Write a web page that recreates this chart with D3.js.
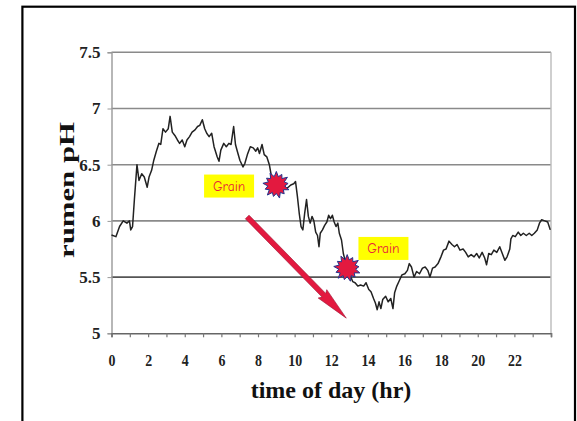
<!DOCTYPE html>
<html><head><meta charset="utf-8">
<script src="https://cdn.jsdelivr.net/npm/d3@7"></script>
<style>
html,body{margin:0;padding:0;background:#fff;}
svg{display:block;}
</style>
</head><body>
<svg id="chart" width="577" height="421"></svg>
<script>
// ---- data ----
const hours = [0,0.24,0.44,0.64,0.84,0.98,1.05,1.15,1.25,1.3,1.39,1.5,1.65,1.79,1.95,2.05,2.19,2.31,2.45,2.59,2.69,2.81,2.95,3.1,3.2,3.32,3.46,3.6,3.72,3.86,4.0,4.12,4.26,4.4,4.56,4.7,4.82,4.96,5.09,5.2,5.33,5.47,5.6,5.77,5.87,5.97,6.13,6.27,6.41,6.53,6.67,6.77,6.87,7.01,7.18,7.28,7.42,7.58,7.74,7.88,7.98,8.08,8.22,8.34,8.48,8.62,8.74,8.88,9.19,9.39,9.59,9.79,9.95,10.05,10.15,10.25,10.35,10.45,10.55,10.65,10.75,10.85,10.95,11.05,11.15,11.25,11.33,11.4,11.52,11.64,11.76,11.86,11.96,12.06,12.16,12.26,12.36,12.44,12.56,12.66,12.8,13.0,13.17,13.3,13.45,13.6,13.77,13.9,14.05,14.17,14.31,14.41,14.51,14.61,14.71,14.81,14.97,15.11,15.25,15.37,15.46,15.58,15.72,15.86,16.02,16.16,16.26,16.38,16.52,16.66,16.82,16.98,17.13,17.27,17.39,17.53,17.67,17.83,17.99,18.13,18.27,18.43,18.59,18.73,18.87,19.03,19.2,19.34,19.48,19.64,19.8,19.94,20.08,20.24,20.38,20.48,20.6,20.74,20.88,21.04,21.2,21.34,21.48,21.6,21.75,21.81,21.91,22.05,22.21,22.35,22.49,22.65,22.81,22.95,23.09,23.25,23.37,23.49,23.66,23.82,23.96];
const ph = [5.875,5.86,5.95,6.0,5.98,6.0,5.92,5.95,6.19,6.3,6.5,6.36,6.42,6.39,6.3,6.39,6.45,6.54,6.62,6.69,6.68,6.82,6.79,6.82,6.93,6.79,6.76,6.72,6.69,6.72,6.66,6.72,6.75,6.79,6.81,6.84,6.85,6.9,6.82,6.78,6.75,6.78,6.66,6.57,6.53,6.63,6.69,6.66,6.69,6.68,6.84,6.68,6.62,6.54,6.48,6.51,6.59,6.66,6.65,6.62,6.65,6.6,6.68,6.59,6.57,6.5,6.39,6.35,6.28,6.31,6.29,6.32,6.33,6.35,6.22,6.07,5.95,5.92,6.07,6.19,6.04,5.98,6.04,6.0,5.9,5.87,5.77,5.89,5.92,5.96,5.99,6.05,6.02,6.05,5.99,5.95,5.98,5.89,5.83,5.71,5.62,5.53,5.46,5.45,5.42,5.43,5.42,5.45,5.39,5.37,5.31,5.27,5.21,5.28,5.22,5.3,5.33,5.28,5.31,5.22,5.36,5.42,5.47,5.52,5.53,5.56,5.62,5.59,5.5,5.55,5.53,5.58,5.59,5.56,5.5,5.58,5.59,5.62,5.68,5.74,5.75,5.82,5.79,5.77,5.79,5.74,5.75,5.72,5.68,5.7,5.68,5.71,5.67,5.72,5.67,5.61,5.71,5.7,5.74,5.72,5.77,5.71,5.65,5.68,5.75,5.84,5.87,5.86,5.9,5.87,5.89,5.87,5.89,5.87,5.89,5.92,5.98,6.01,6.0,5.99,5.92];
const yTicks = [5, 5.5, 6, 6.5, 7, 7.5];
const xTickLabels = [0, 2, 4, 6, 8, 10, 12, 14, 16, 18, 20, 22];
const xMinorTicks = d3.range(0, 25, 1);
const grainLabels = ["Grain", "Grain"];
const grainLabelHour = [6.42, 14.85];
const grainLabelPh = [6.31, 5.755];
const starHour = [9.0, 12.87];
const starPh = [6.32, 5.58];
const arrowHour = [7.41, 12.82];
const arrowPh = [6.035, 5.135];
const xTitle = "time of day (hr)";
const yTitle = "rumen pH";

// ---- drawing ----
const svg = d3.select("#chart");
const x = d3.scaleLinear().domain([0, 24]).range([111.5, 551]);
const y = d3.scaleLinear().domain([5, 7.5]).range([333.3, 52.3]);

// outer frame
svg.append("rect").attr("x", 22.4).attr("y", 6.7).attr("width", 552.6).attr("height", 430)
  .attr("fill", "none").attr("stroke", "#000").attr("stroke-width", 2.2);

// gridlines
svg.append("g").selectAll("line").data(yTicks.filter(d => d > 5)).join("line")
  .attr("x1", x(0)).attr("x2", x(24))
  .attr("y1", d => y(d)).attr("y2", d => y(d))
  .attr("stroke", d => d === 5.5 ? "#555" : "#8a8a8a").attr("stroke-width", 1.6);

// right plot border
svg.append("line").attr("x1", x(24)).attr("x2", x(24)).attr("y1", y(7.5)).attr("y2", y(5))
  .attr("stroke", "#bbb").attr("stroke-width", 1.4);

// y axis
const yAxis = svg.append("g").attr("transform", `translate(${x(0)},0)`)
  .call(d3.axisLeft(y).tickValues(yTicks).tickSize(4).tickPadding(7)
    .tickFormat(d => d % 1 === 0 ? String(d) : d.toFixed(1)));
yAxis.select(".domain").attr("stroke", "#999").attr("stroke-width", 1.4);
yAxis.selectAll(".tick line").attr("stroke", "#999");
yAxis.selectAll("text").attr("font-family", "'Liberation Serif','Times New Roman',serif")
  .attr("font-size", 17).attr("font-weight", "bold").attr("fill", "#222");

// x axis
const xAxis = svg.append("g").attr("transform", `translate(0,${y(5)})`)
  .call(d3.axisBottom(x).tickValues(xMinorTicks).tickSize(4).tickPadding(17)
    .tickFormat(d => xTickLabels.includes(d) ? String(d) : ""));
xAxis.select(".domain").attr("stroke", "#666").attr("stroke-width", 1.6);
xAxis.selectAll(".tick line").attr("stroke", "#777").attr("stroke-width", 1.2);
xAxis.selectAll(".tick text")
  .attr("font-family", "'Liberation Serif','Times New Roman',serif")
  .attr("font-size", 17).attr("font-weight", "bold").attr("fill", "#222")
  .attr("transform", "scale(0.82,1)");

// data line
const pts = hours.map((h, i) => [h, ph[i]]);
svg.append("path").datum(pts)
  .attr("d", d3.line().x(d => x(d[0])).y(d => y(d[1])))
  .attr("fill", "none").attr("stroke", "#222").attr("stroke-width", 1.5)
  .attr("stroke-linejoin", "round");

// arrow
(function() {
  const x0 = x(arrowHour[0]), y0 = y(arrowPh[0]), x1 = x(arrowHour[1]), y1 = y(arrowPh[1]);
  const L = Math.hypot(x1 - x0, y1 - y0);
  const ux = (x1 - x0) / L, uy = (y1 - y0) / L;
  const nx = -uy, ny = ux;
  const sw = 2.6, hw = 6, hl = 32;
  const bx = x1 - ux * hl, by = y1 - uy * hl;
  const p = [
    [x0 + nx * sw, y0 + ny * sw],
    [bx + nx * sw, by + ny * sw],
    [bx + nx * hw - ux * 2, by + ny * hw - uy * 2],
    [x1, y1],
    [bx - nx * hw - ux * 2, by - ny * hw - uy * 2],
    [bx - nx * sw, by - ny * sw],
    [x0 - nx * sw, y0 - ny * sw]
  ];
  svg.append("path").attr("d", "M" + p.map(q => q.join(",")).join("L") + "Z")
    .attr("fill", "#e3193f").attr("stroke", "#9a1030").attr("stroke-width", 0.6)
    .attr("stroke-linejoin", "round");
})();

// stars
const starPath = (cx, cy) => {
  const n = 13, ro = 13.5, ri = 8.5;
  const pts = [];
  for (let i = 0; i < 2 * n; i++) {
    const a = -Math.PI / 2 + i * Math.PI / n;
    const r = i % 2 === 0 ? ro * (i % 4 === 0 ? 1 : 0.88) : ri;
    pts.push([cx + r * Math.cos(a), cy + r * Math.sin(a)]);
  }
  return "M" + pts.map(q => q.join(",")).join("L") + "Z";
};
svg.append("g").selectAll("path").data(starHour).join("path")
  .attr("d", (d, i) => starPath(x(d), y(starPh[i])))
  .attr("fill", "#e3193f").attr("stroke", "#23358f").attr("stroke-width", 1);

// grain labels
const gl = svg.append("g").selectAll("g").data(grainLabels).join("g")
  .attr("transform", (d, i) => `translate(${x(grainLabelHour[i])},${y(grainLabelPh[i])})`);
gl.append("rect").attr("x", -25).attr("y", -11.5).attr("width", 50).attr("height", 23)
  .attr("fill", "#ffff00");
gl.append("text").text(d => d).attr("text-anchor", "middle").attr("y", 5)
  .attr("font-family", "'Comic Sans MS','Comic Neue','Noto Sans',sans-serif")
  .attr("font-size", 13.5).attr("fill", "#e8203a");

// titles
svg.append("text").text(xTitle).attr("x", 331).attr("y", 398).attr("text-anchor", "middle")
  .attr("font-family", "'Liberation Serif','Times New Roman',serif")
  .attr("font-size", 24).attr("font-weight", "bold").attr("fill", "#111");
svg.append("text").text(yTitle)
  .attr("transform", "translate(73.5,190) rotate(-90)").attr("text-anchor", "middle")
  .attr("font-family", "'Liberation Serif','Times New Roman',serif")
  .attr("font-size", 20).attr("font-weight", "bold").attr("fill", "#111")
  .attr("textLength", 136).attr("lengthAdjust", "spacingAndGlyphs");
</script>
</body></html>
